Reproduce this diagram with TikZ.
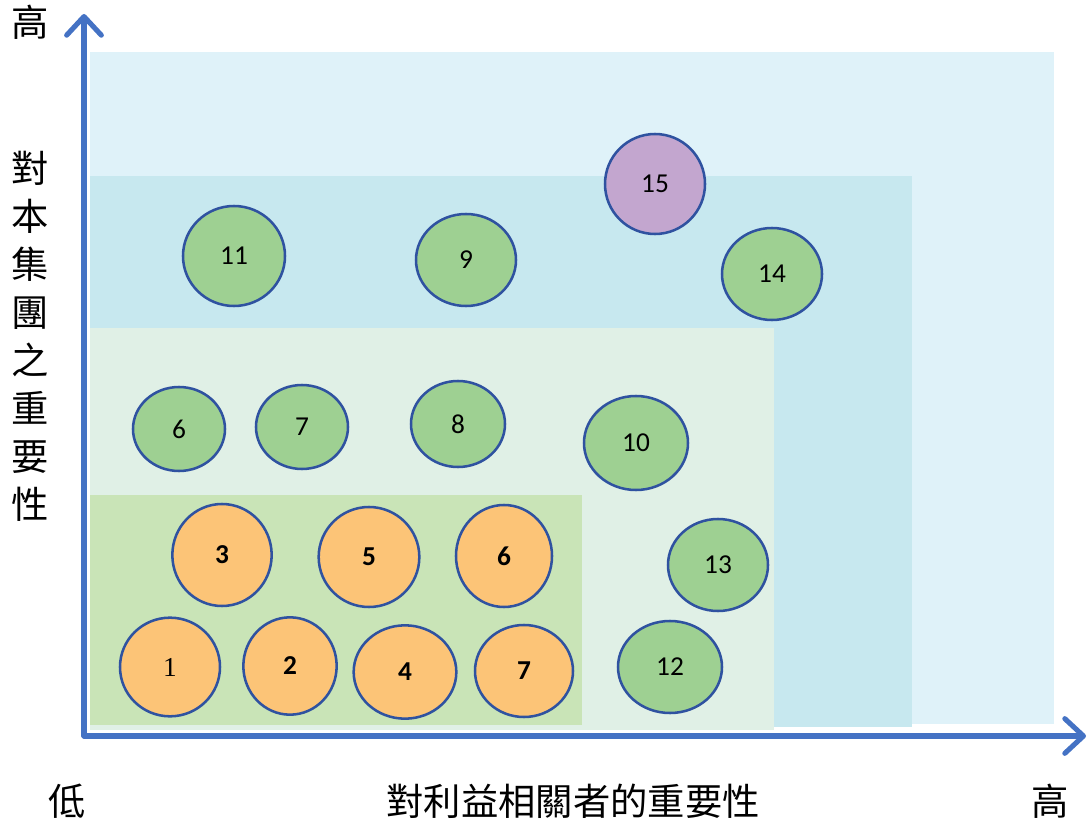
\documentclass[tikz,border=0pt]{standalone}
\usepackage{fontspec}
\setmainfont{Carlito}
\newfontfamily\cjk{Noto Sans CJK TC}
\newfontfamily\serifnum{Liberation Serif}
\usetikzlibrary{shapes.geometric,arrows.meta}
\definecolor{bgA}{HTML}{DFF2F9}
\definecolor{bgB}{HTML}{C7E8EF}
\definecolor{bgC}{HTML}{E0F0E6}
\definecolor{bgD}{HTML}{C9E4B7}
\definecolor{axisblue}{HTML}{4472C4}
\definecolor{ringblue}{HTML}{2F52A0}
\definecolor{orangefill}{HTML}{FCC477}
\definecolor{greenfill}{HTML}{9ED092}
\definecolor{purplefill}{HTML}{C3A6CF}
\tikzset{
  bubble/.style={ellipse, draw=ringblue, line width=1.9pt, inner sep=0pt, font=\fontsize{20.5}{22}\selectfont},
  gbub/.style={bubble, fill=greenfill},
  obub/.style={bubble, fill=orangefill, font=\fontsize{20.5}{22}\selectfont\bfseries},
  pbub/.style={bubble, fill=purplefill},
  axis/.style={draw=axisblue, line width=3.8pt, line cap=round, -{Straight Barb[length=14pt,width=26pt,line width=3.8pt,round]}},
  cjklabel/.style={font=\cjk\fontsize{28}{30}\selectfont, inner sep=0pt}
}
\begin{document}
\begin{tikzpicture}[x=0.75pt,y=-0.75pt]
\useasboundingbox (0,0) rectangle (1092,823);
% background zones
\fill[bgA] (90,52) rectangle (1054,724);
\fill[bgB] (90,176) rectangle (912,727);
\fill[bgC] (90,328) rectangle (774,730);
\fill[bgD] (90,495) rectangle (582,725);
% axes
\coordinate (origin) at (84,736);
\coordinate (ytop) at (84,14);
\coordinate (xend) at (1086,736);
\draw[axis] (origin) -- (ytop);
\draw[axis] (origin) -- (xend);
% labels
\node[cjklabel] (yhigh) at (30,22) {高};
\node[cjklabel, align=center] (ytitle) at (30,336) {對\\[6pt]本\\[6pt]集\\[6pt]團\\[6pt]之\\[6pt]重\\[6pt]要\\[6pt]性};
\node[cjklabel] (xlow) at (67,801) {低};
\node[cjklabel] (xtitle) at (573,801) {對利益相關者的重要性};
\node[cjklabel] (xhigh) at (1050,801) {高};
% bubbles
\node[pbub, minimum width=75pt, minimum height=75pt] (n15) at (655,184) {15};
\node[gbub, minimum width=76.5pt, minimum height=75pt] (n11) at (234,256) {11};
\node[gbub, minimum width=75pt, minimum height=69pt] (n9) at (466,260) {9};
\node[gbub, minimum width=75pt, minimum height=69pt] (n14) at (772,274) {14};
\node[gbub, minimum width=69pt, minimum height=63pt] (g6) at (179,429) {6};
\node[gbub, minimum width=69pt, minimum height=63pt] (g7) at (302,427) {7};
\node[gbub, minimum width=70.5pt, minimum height=64.5pt] (n8) at (458,424) {8};
\node[gbub, minimum width=78pt, minimum height=70.5pt] (n10) at (636,443) {10};
\node[gbub, minimum width=75pt, minimum height=69pt] (n13) at (718,565) {13};
\node[gbub, minimum width=78pt, minimum height=69pt] (n12) at (670,667) {12};
\node[obub, minimum width=74.5pt, minimum height=76.5pt] (o3) at (222,555) {3};
\node[obub, minimum width=75.5pt, minimum height=75pt] (o5) at (369,557) {5};
\node[obub, minimum width=72pt, minimum height=76.5pt] (o6) at (504,556) {6};
\node[obub, minimum width=75pt, minimum height=74pt, font=\serifnum\fontsize{20.5}{22}\selectfont] (o1) at (170,667) {1};
\node[obub, minimum width=70pt, minimum height=73pt] (o2) at (290,666) {2};
\node[obub, minimum width=77pt, minimum height=70pt] (o4) at (405,672) {4};
\node[obub, minimum width=73.5pt, minimum height=69pt] (o7) at (524,671) {7};
\end{tikzpicture}
\end{document}
